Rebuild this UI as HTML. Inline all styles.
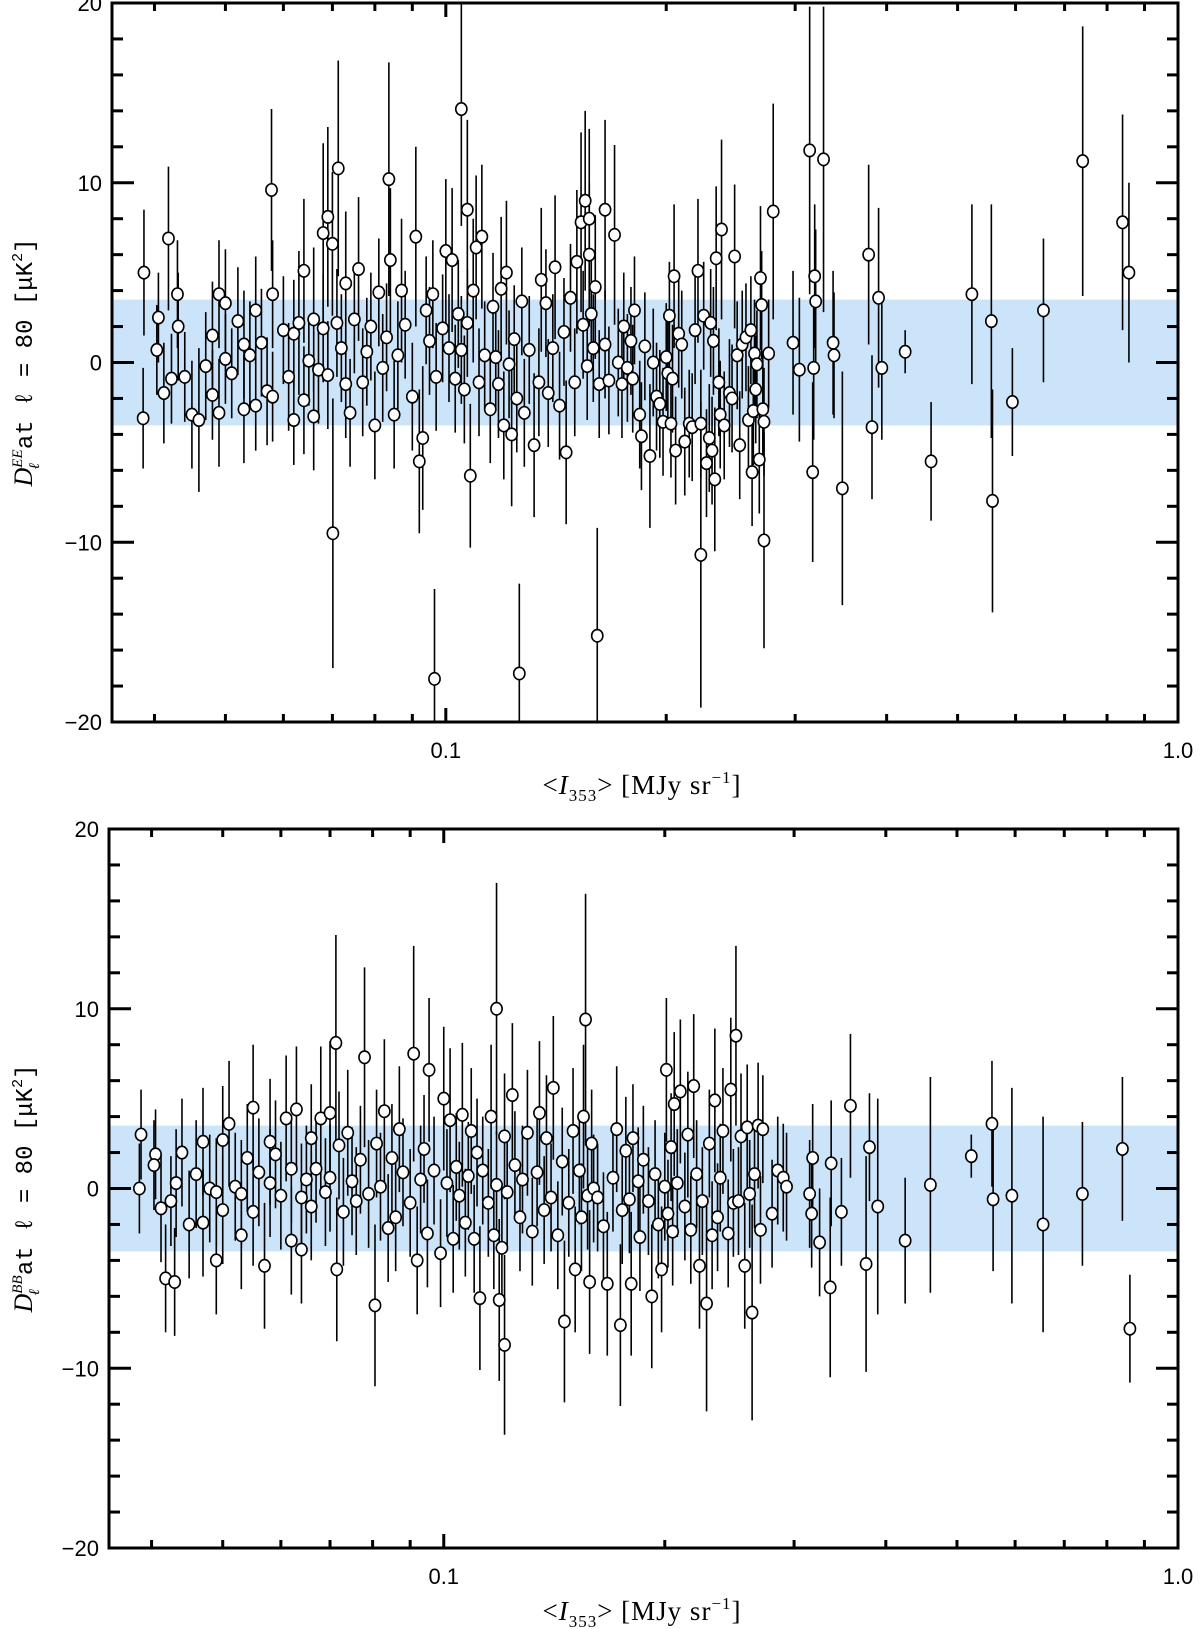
<!DOCTYPE html>
<html><head><meta charset="utf-8">
<style>
html,body{margin:0;padding:0;background:#fff;}
svg{display:block;font-family:"Liberation Sans",sans-serif;}
</style></head>
<body>
<svg id="fig" width="1200" height="1629" viewBox="0 0 1200 1629" xmlns="http://www.w3.org/2000/svg"></svg>
<script>
// ---------- DATA: EE panel ----------
const eeX = [0.0387,0.0386,0.0405,0.0403,0.0412,0.0418,0.0422,0.0430,0.0431,0.044,0.045,0.046,0.047,0.048,0.048,0.049,0.049,0.050,0.050,0.051,0.052,0.053,0.053,0.054,0.055,0.055,0.056,0.057,0.058,0.058,0.0578,0.060,0.061,0.062,0.062,0.063,0.064,0.064,0.065,0.066,0.066,0.067,0.068,0.068,0.069,0.069,0.070,0.0701,0.0713,0.071,0.072,0.073,0.073,0.074,0.075,0.076,0.077,0.078,0.079,0.080,0.081,0.082,0.083,0.0836,0.084,0.085,0.086,0.087,0.088,0.090,0.091,0.092,0.093,0.094,0.095,0.096,0.0965,0.097,0.099,0.100,0.101,0.102,0.103,0.104,0.105,0.105,0.106,0.107,0.107,0.108,0.109,0.110,0.111,0.112,0.113,0.115,0.116,0.117,0.118,0.119,0.120,0.121,0.122,0.123,0.124,0.125,0.126,0.127,0.128,0.130,0.132,0.134,0.135,0.137,0.138,0.140,0.141,0.143,0.145,0.146,0.148,0.150,0.151,0.153,0.154,0.155,0.156,0.157,0.157,0.158,0.159,0.160,0.161,0.162,0.165,0.165,0.167,0.170,0.172,0.174,0.175,0.177,0.179,0.180,0.181,0.184,0.185,0.187,0.190,0.192,0.194,0.196,0.198,0.200,0.201,0.202,0.203,0.204,0.205,0.206,0.208,0.210,0.212,0.215,0.217,0.219,0.221,0.223,0.223,0.225,0.227,0.229,0.230,0.231,0.232,0.233,0.234,0.236,0.237,0.238,0.240,0.244,0.246,0.248,0.250,0.252,0.254,0.257,0.259,0.261,0.262,0.263,0.264,0.265,0.266,0.268,0.269,0.270,0.271,0.272,0.272,0.276,0.280,0.298,0.304,0.314,0.317,0.318,0.319,0.320,0.328,0.338,0.339,0.348,0.378,0.382,0.390,0.394,0.424,0.460,0.523,0.556,0.558,0.594,0.655,0.741,0.840,0.857];
const eeY = [5.0,-3.1,2.5,0.7,-1.7,6.9,-0.9,3.8,2.0,-0.8,-2.9,-3.2,-0.2,-1.8,1.5,3.8,-2.8,0.2,3.3,-0.6,2.3,1.0,-2.6,0.4,-2.4,2.9,1.1,-1.6,3.8,-1.9,9.6,1.8,-0.8,-3.2,1.6,2.2,5.1,-2.1,0.1,-3.0,2.4,-0.4,1.9,7.2,8.1,-0.7,6.6,-9.5,10.8,2.2,0.8,-1.2,4.4,-2.8,2.4,5.2,-1.1,0.6,2.0,-3.5,3.9,-0.3,1.4,10.2,5.7,-2.9,0.4,4.0,2.1,-1.9,7.0,-5.5,-4.2,2.9,1.2,3.8,-17.6,-0.8,1.9,6.2,0.8,5.7,-0.9,2.7,0.7,14.1,-1.5,2.2,8.5,-6.3,4.0,6.4,-1.1,7.0,0.4,-2.6,3.1,0.3,-1.2,4.1,-3.5,5.0,-0.1,-4.0,1.3,-2.0,-17.3,3.4,-2.8,0.7,-4.6,-1.1,4.6,3.3,-1.7,0.8,5.3,-2.4,1.7,-5.0,3.6,-1.1,5.6,7.8,2.1,9.0,-0.2,6.0,8.0,2.7,0.8,4.2,-15.2,-1.2,1.0,8.5,-1.0,7.1,0.0,-1.2,2.0,-0.3,1.2,-0.9,2.9,-2.9,-4.1,0.9,-5.2,0.0,-1.9,-2.3,-3.3,0.3,-0.6,2.6,-3.4,-0.9,4.8,-4.9,1.6,1.0,-4.4,-3.4,-3.6,1.8,5.1,-3.4,-10.7,2.6,-5.6,-4.2,2.2,-4.9,1.2,-6.5,5.8,-1.1,-2.9,7.4,-3.5,-1.7,-2.0,5.9,0.4,-4.6,1.0,1.4,-3.2,1.8,-6.1,-2.7,0.5,-1.5,-0.1,-5.4,4.7,3.2,-2.6,-3.3,-9.9,0.5,8.4,1.1,-0.4,11.8,-6.1,-0.3,4.8,3.4,11.3,1.1,0.4,-7.0,6.0,-3.6,3.6,-0.3,0.6,-5.5,3.8,2.3,-7.7,-2.2,2.9,11.2,7.8,5.0];
const eeE = [3.5,2.8,2.5,2.5,2.8,4.0,2.5,3.0,3.0,2.5,3.0,4.0,3.0,2.5,3.0,3.0,3.0,2.5,3.0,2.5,3.0,3.0,3.0,3.0,2.5,3.0,3.0,3.0,3.0,2.5,4.5,3.0,3.0,2.5,3.0,4.0,4.0,3.0,2.5,3.0,4.0,3.0,3.0,5.0,5.0,3.0,4.0,7.5,6.0,3.0,3.0,3.0,4.0,3.0,3.0,4.0,3.0,3.0,3.0,3.0,3.0,3.0,3.0,6.5,4.0,3.0,3.0,4.0,3.0,3.0,5.0,4.0,4.0,3.0,3.0,3.0,5.0,3.0,3.0,4.0,3.0,4.0,3.0,3.0,3.0,6.5,3.0,3.0,5.0,4.0,4.0,4.0,3.0,4.0,3.0,3.0,3.0,3.0,3.0,4.0,3.0,4.0,3.0,4.0,3.0,3.0,5.0,3.0,3.0,3.0,4.0,3.0,4.0,3.0,3.0,3.0,4.0,3.0,3.0,4.0,3.0,3.0,4.0,5.0,3.0,5.0,3.0,4.0,5.0,3.0,3.0,4.0,6.0,3.0,3.0,5.0,3.0,5.0,3.0,3.0,3.0,3.0,3.0,3.0,3.0,3.0,3.0,3.0,4.0,3.0,3.0,3.0,3.0,3.0,3.0,3.0,3.0,3.0,4.0,3.0,3.0,3.0,3.0,3.0,3.0,3.0,4.0,3.0,8.5,3.0,3.0,3.0,3.0,3.0,3.0,4.0,4.0,3.0,3.0,5.0,3.0,3.0,3.0,4.0,3.0,3.0,3.0,3.0,3.0,3.0,3.0,3.0,3.0,3.0,3.0,3.0,4.0,3.0,3.0,3.0,6.0,3.0,6.0,4.0,4.0,8.0,5.0,4.0,4.0,4.0,8.5,4.0,3.5,6.5,5.0,4.0,5.0,4.0,1.2,3.3,5.0,6.5,6.2,3.0,4.0,7.5,6.0,5.0];

// ---------- DATA: BB panel ----------
const bbX = [0.0387,0.0385,0.0405,0.0403,0.0412,0.0418,0.0425,0.0430,0.0432,0.044,0.045,0.046,0.047,0.047,0.048,0.049,0.049,0.050,0.050,0.051,0.052,0.053,0.053,0.054,0.055,0.055,0.056,0.057,0.058,0.058,0.059,0.060,0.061,0.062,0.062,0.063,0.064,0.064,0.065,0.066,0.066,0.067,0.068,0.069,0.070,0.070,0.0713,0.0715,0.072,0.073,0.074,0.075,0.076,0.077,0.078,0.079,0.0806,0.081,0.082,0.083,0.084,0.085,0.086,0.087,0.088,0.090,0.091,0.092,0.093,0.094,0.095,0.0955,0.097,0.099,0.100,0.101,0.102,0.103,0.104,0.105,0.106,0.107,0.108,0.109,0.110,0.111,0.112,0.113,0.115,0.116,0.117,0.118,0.118,0.119,0.120,0.121,0.121,0.122,0.124,0.125,0.127,0.128,0.130,0.132,0.134,0.135,0.137,0.138,0.140,0.141,0.143,0.145,0.146,0.148,0.150,0.151,0.153,0.154,0.155,0.156,0.157,0.158,0.159,0.160,0.162,0.165,0.167,0.170,0.172,0.174,0.175,0.177,0.179,0.180,0.181,0.184,0.185,0.187,0.190,0.192,0.194,0.196,0.198,0.200,0.201,0.202,0.204,0.205,0.206,0.208,0.210,0.213,0.215,0.217,0.219,0.221,0.223,0.225,0.228,0.230,0.232,0.234,0.236,0.238,0.240,0.244,0.246,0.248,0.250,0.252,0.254,0.257,0.259,0.261,0.263,0.265,0.268,0.270,0.272,0.280,0.285,0.290,0.293,0.315,0.317,0.318,0.325,0.336,0.337,0.348,0.358,0.376,0.380,0.390,0.425,0.460,0.523,0.558,0.560,0.594,0.655,0.741,0.840,0.860];
const bbY = [3.0,0.0,1.9,1.3,-1.1,-5.0,-0.7,-5.2,0.3,2.0,-2.0,0.8,2.6,-1.9,0.0,-0.2,-4.0,2.7,-1.2,3.6,0.1,-0.3,-2.6,1.7,-1.3,4.5,0.9,-4.3,2.6,0.3,1.9,-0.4,3.9,-2.9,1.1,4.4,-3.4,-0.5,0.5,2.8,-1.0,1.1,3.9,-0.2,0.6,4.2,8.1,-4.5,2.4,-1.3,3.1,0.4,-0.7,1.6,7.3,-0.3,-6.5,2.5,0.1,4.3,-2.2,1.7,-1.6,3.3,0.9,-0.8,7.5,-4.0,0.5,2.2,-2.5,6.6,1.0,-3.6,5.0,0.3,3.8,-2.8,1.2,-0.4,4.1,-1.9,0.7,3.2,-2.8,2.0,-6.1,1.0,-0.8,4.0,-2.6,10.0,0.2,-6.2,-3.3,2.9,-8.7,-0.2,5.2,1.3,-1.6,0.5,3.1,-2.4,0.9,4.2,-1.2,2.8,-0.5,5.6,-2.6,1.5,-7.4,-0.8,3.2,-4.5,1.0,-1.6,4.0,9.4,-0.4,-5.2,2.5,0.0,-0.5,-2.1,-5.3,0.6,3.3,-7.6,-1.2,2.1,-0.6,-5.3,2.8,0.4,-2.7,1.6,-0.7,-6.0,0.8,-2.0,-4.5,0.1,6.6,-1.4,2.3,-2.4,4.7,0.3,5.4,-1.0,3.0,-2.3,5.7,0.8,-4.3,-0.7,-6.4,2.5,-2.6,4.9,-1.6,0.6,3.2,-2.5,5.5,-0.8,8.5,-0.7,2.9,-4.3,3.4,-0.3,-6.9,0.8,3.5,-2.3,3.3,-1.4,1.0,0.6,0.1,-0.3,-1.4,1.7,-3.0,-5.5,1.4,-1.3,4.6,-4.2,2.3,-1.0,-2.9,0.2,1.8,3.6,-0.6,-0.4,-2.0,-0.3,2.2,-7.8,5.4];
const bbE = [2.5,2.5,2.5,2.5,3.0,3.0,2.5,3.0,3.0,3.0,3.0,3.0,3.0,3.0,3.0,3.0,3.0,3.0,3.0,3.5,3.0,3.0,3.0,3.0,3.0,3.5,3.0,3.5,3.5,3.0,3.0,3.0,3.5,3.0,3.0,3.5,3.0,3.0,3.0,3.0,3.0,3.0,4.0,3.0,3.0,4.0,6.0,4.0,3.0,3.0,3.5,3.0,3.0,3.0,5.0,3.0,4.5,3.0,3.0,4.0,3.0,3.0,3.0,3.5,3.0,3.0,6.0,3.0,3.0,3.0,3.0,4.0,3.0,3.0,4.0,3.0,4.0,3.0,3.0,3.0,4.0,3.0,3.0,3.5,3.0,3.0,4.0,3.0,3.0,4.0,3.0,7.0,3.0,4.5,3.0,3.5,5.0,3.0,4.0,3.0,3.0,3.0,3.5,3.0,3.0,4.0,3.0,3.5,3.0,4.0,3.0,3.0,4.5,3.0,3.5,3.5,3.0,3.0,4.0,7.0,3.0,4.0,3.0,3.0,3.0,3.0,4.0,3.0,3.5,4.5,3.0,3.0,3.0,4.0,3.0,3.0,3.0,3.0,3.0,4.0,3.0,3.0,3.5,3.0,4.0,3.0,3.0,3.0,4.0,3.0,4.0,3.0,3.5,3.0,4.0,3.0,3.5,3.0,6.0,3.0,3.0,4.0,3.0,3.0,3.5,3.0,4.0,3.0,5.0,3.0,3.5,3.5,3.5,3.0,6.0,3.0,3.5,3.0,3.0,3.0,3.0,3.0,3.0,3.0,3.0,3.0,3.0,5.0,3.5,3.0,4.0,6.0,3.0,6.0,3.5,6.0,1.2,3.5,4.0,6.0,6.0,4.0,4.0,3.0,5.5,5.0];

const yTicks = [-20,-10,0,10,20];
const xTickLabels = ["0.1","1.0"];
const xTickVals = [0.1,1.0];
const bandHalf = 3.5;

// ---------- DRAW ----------
const NS = "http://www.w3.org/2000/svg";
const svg = document.getElementById('fig');
function mk(tag, attrs, parent){
  const e = document.createElementNS(NS, tag);
  for (const k in attrs) e.setAttribute(k, attrs[k]);
  (parent||svg).appendChild(e);
  return e;
}
const XMIN = 0.035, XMAX = 1.0;

function drawPanel(cfg, xs, ys, es){
  const L=cfg.L, R=1178, T=cfg.T, B=cfg.B;
  const sx = v => L + (Math.log10(v)-Math.log10(XMIN))/(Math.log10(XMAX)-Math.log10(XMIN))*(R-L);
  const sy = v => B - (v+20)/40*(B-T);
  const g = mk('g', {});
  
  
  const band = mk('rect', {x:L, y:sy(bandHalf), width:R-L, height:sy(-bandHalf)-sy(bandHalf), fill:'#cce4fa'}, g);
  
  
  const cpId = cfg.name+'-clip';
  const cp = mk('clipPath', {id:cpId}, g);
  mk('rect', {x:L, y:T, width:R-L, height:B-T}, cp);
  const pts = mk('g', {'clip-path':'url(#'+cpId+')'}, g);
  
  
  for (let i=0;i<xs.length;i++){
    const x = sx(xs[i]);
    const eb = mk('line', {x1:x, x2:x, y1:sy(ys[i]-es[i]), y2:sy(ys[i]+es[i]), stroke:'#000', 'stroke-width':1.6}, pts);
    
    
  }
  for (let i=0;i<xs.length;i++){
    const c = mk('ellipse', {cx:sx(xs[i]), cy:sy(ys[i]), rx:5.6, ry:6.2, fill:'#fff', stroke:'#000', 'stroke-width':1.6}, pts);
    
    
  }
  const fr = mk('rect', {x:L, y:T, width:R-L, height:B-T, fill:'none', stroke:'#000', 'stroke-width':3}, g);
  
  
  for (let v=-20; v<=20; v+=2){
    const y = sy(v);
    const len = (v%10===0) ? 22 : 11;
    mk('line', {x1:L, x2:L+len, y1:y, y2:y, stroke:'#000', 'stroke-width':3}, g);
    mk('line', {x1:R, x2:R-len, y1:y, y2:y, stroke:'#000', 'stroke-width':3}, g);
  }
  yTicks.forEach(v=>{
    const t = mk('text', {x:L-10, y:sy(v)+8, 'text-anchor':'end', 'font-size':22, fill:'#000'}, g);
    t.textContent = v<0 ? '\u2212'+Math.abs(v) : String(v);
    
    
  });
  const minors = [0.04,0.05,0.06,0.07,0.08,0.09,0.2,0.3,0.4,0.5,0.6,0.7,0.8,0.9];
  minors.forEach(v=>{
    const x = sx(v);
    mk('line', {x1:x, x2:x, y1:B, y2:B-8, stroke:'#000', 'stroke-width':3}, g);
    mk('line', {x1:x, x2:x, y1:T, y2:T+8, stroke:'#000', 'stroke-width':3}, g);
  });
  xTickVals.forEach((v,i)=>{
    const x = sx(v);
    mk('line', {x1:x, x2:x, y1:B, y2:B-14, stroke:'#000', 'stroke-width':3}, g);
    mk('line', {x1:x, x2:x, y1:T, y2:T+14, stroke:'#000', 'stroke-width':3}, g);
    const t = mk('text', {x:x, y:B+36, 'text-anchor':'middle', 'font-size':22, fill:'#000'}, g);
    t.textContent = xTickLabels[i];
    
    
  });
  const xt = mk('text', {x:642, y:B+72, 'text-anchor':'middle', 'font-size':27, fill:'#000', 'font-family':'"Liberation Serif",serif', 'letter-spacing':'1'}, g);
  xt.innerHTML = '&lt;<tspan font-style="italic">I</tspan><tspan font-size="17" dy="7">353</tspan><tspan dy="-7">&gt; [MJy sr</tspan><tspan font-size="17" dy="-11">\u22121</tspan><tspan dy="11">]</tspan>';
  
  
  const cy = (T+B)/2;
  const yt = mk('text', {x:0, y:0, 'text-anchor':'middle', 'font-size':24, fill:'#000', 'font-family':'"Liberation Mono",monospace', transform:'translate(32,'+cy+') rotate(-90)'}, g);
  yt.innerHTML = '<tspan font-style="italic" font-family="Liberation Serif,serif" font-size="26">D</tspan><tspan font-size="15" font-style="italic" font-family="Liberation Serif,serif" dy="-10">'+cfg.sup+'</tspan><tspan font-size="15" font-style="italic" font-family="Liberation Serif,serif" dx="-20" dy="17">\u2113</tspan><tspan dx="14" dy="-7">at \u2113 = 80 [\u03bcK</tspan><tspan font-size="15" dy="-10">2</tspan><tspan dy="10">]</tspan>';
  
  
}

drawPanel({name:'ee-panel', L:112, T:3, B:722, sup:'EE'}, eeX, eeY, eeE);
drawPanel({name:'bb-panel', L:109, T:829, B:1548, sup:'BB'}, bbX, bbY, bbE);
</script>
</body></html>
